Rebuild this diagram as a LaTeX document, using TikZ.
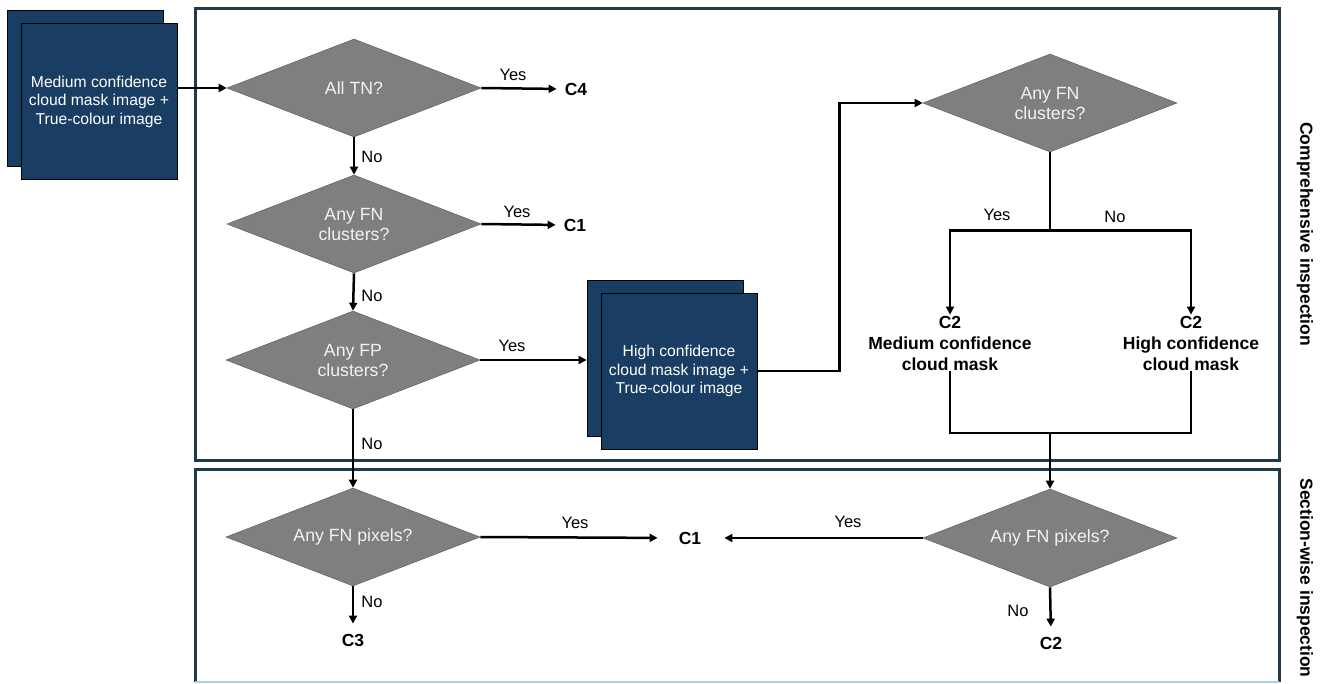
\documentclass[tikz,border=0pt]{standalone}
\usepackage{fontspec}
\setmainfont{Liberation Sans}
\usetikzlibrary{shapes.geometric,arrows.meta}
\definecolor{panel}{HTML}{213A4B}
\definecolor{navy}{HTML}{1A3D63}
\definecolor{dgray}{HTML}{7F7F7F}
\definecolor{dtext}{HTML}{F2F2F2}
\definecolor{lblue}{HTML}{A8D0EA}
\begin{document}
\begin{tikzpicture}[x=1pt,y=-1pt,
 dec/.style={diamond, fill=dgray, draw=dgray!80!black, line width=0.6pt, minimum width=254pt, minimum height=98pt, inner sep=0pt, aspect=2.6, text=dtext, font=\fontsize{17.7}{20}\selectfont, align=center},
 imgbox/.style={rectangle, fill=navy, draw=black, line width=0.8pt, minimum width=156pt, minimum height=156pt, inner sep=0pt, text=white, font=\fontsize{15.7}{18.5}\selectfont, align=center},
 res/.style={font=\bfseries\fontsize{17.5}{21}\selectfont, align=center, inner sep=1pt},
 lab/.style={font=\fontsize{16.5}{19}\selectfont, inner sep=0pt},
 side/.style={rotate=-90, font=\bfseries\fontsize{17.5}{20}\selectfont, inner sep=0pt},
 arr/.style={line width=2.5pt, -{Triangle[length=8pt,width=8pt]}},
 ln/.style={line width=2.5pt},
 panelline/.style={draw=panel, line width=3pt}]
\useasboundingbox[fill=white] (0,0) rectangle (1320,683);
% panels
\draw[panelline] (195,8) rectangle (1279,460);
\draw[panelline] (195,682) -- (195,469) -- (1279,469) -- (1279,682);
\draw[lblue, line width=1.5pt] (195,682) -- (1279,682);
\node[side] (lc) at (1305,234) {Comprehensive inspection};
\node[side] (ls) at (1305,578) {Section-wise inspection};
% image boxes
\node[imgbox] (b1b) at (85,88) {};
\node[imgbox] (b1) at (99,101.5) {Medium confidence\\cloud mask image +\\True-colour image};
\node[imgbox] (b2b) at (665,358) {};
\node[imgbox] (b2) at (679,371) {High confidence\\cloud mask image +\\True-colour image};
% decisions
\node[dec] (d1) at (354,88) {All TN?};
\node[dec] (d2) at (354,224) {Any FN\\clusters?};
\node[dec] (d3) at (353,360) {Any FP\\clusters?};
\node[dec] (d6) at (353,537) {Any FN pixels?};
\node[dec] (d4) at (1050,103) {Any FN\\clusters?};
\node[dec] (d5) at (1050,538) {Any FN pixels?};
% results
\node[res] (c4) at (576,89) {C4};
\node[res] (c1a) at (575,225) {C1};
\node[res] (c1b) at (690,538) {C1};
\node[res] (c3) at (353,640) {C3};
\node[res] (c2b) at (1051,643) {C2};
\node[res] (c2m) at (950,343) {C2\\Medium confidence\\cloud mask};
\node[res] (c2h) at (1191,343) {C2\\High confidence\\cloud mask};
% connectors
\draw[arr] (b1.east |- d1.west) -- (d1.west);
\draw[arr, shorten >=7pt] (d1.east) -- (c4.west);
\draw[arr] (d1.south) -- (d2.north);
\draw[arr, shorten >=7pt] (d2.east) -- (c1a.west);
\draw[arr] (d2.south) -- (d3.north);
\draw[arr] (d3.east) -- (d3.east -| b2b.west);
\draw[arr] (d3.south) -- (d6.north);
\draw[arr] (b2.east) -- ++(82,0) |- (d4.west);
\draw[ln] (d4.south) -- ++(0,78) coordinate (sp);
\draw[arr] (sp) -| (c2m.north);
\draw[arr] (sp) -| (c2h.north);
\coordinate (mg) at (1050,433);
\draw[ln] (c2m.south) |- (mg) -| (c2h.south);
\draw[arr] (mg) -- (d5.north);
\draw[arr, shorten >=20pt] (d6.east) -- (c1b.west);
\draw[arr, shorten >=22pt] (d5.west) -- (c1b.east);
\draw[arr, shorten >=9pt] (d6.south) -- (c3.north);
\draw[arr, shorten >=9pt] (d5.south) -- (c2b.north);
% labels
\node[lab] at (513,75) {Yes};
\node[lab] at (517,212) {Yes};
\node[lab] at (512,346) {Yes};
\node[lab] at (575,523) {Yes};
\node[lab] at (848,522) {Yes};
\node[lab] at (997,215) {Yes};
\node[lab] at (1115,217) {No};
\node[lab] at (372,157) {No};
\node[lab] at (372,296) {No};
\node[lab] at (372,444) {No};
\node[lab] at (372,602) {No};
\node[lab] at (1018,611) {No};
\end{tikzpicture}
\end{document}
